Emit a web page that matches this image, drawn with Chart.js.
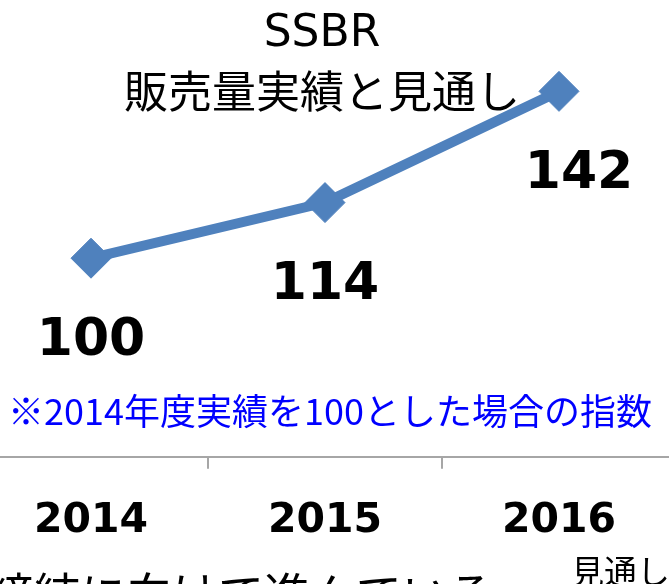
<!DOCTYPE html>
<html>
<head>
<meta charset="utf-8">
<script src="https://cdn.jsdelivr.net/npm/chart.js@4.4.0/dist/chart.umd.min.js"></script>
<style>
    html, body { margin: 0; padding: 0; background: #fff; overflow: hidden; width: 669px; height: 584px; }
    #wrap { position: absolute; left: -26px; top: 0; width: 702px; height: 584px; }
</style>
</head>
<body>
<div id="wrap"><canvas id="chart"></canvas></div>
<script>
const years = ['2014', '2015', '2016'];
const salesIndex = [100, 114, 142];
const titleLines = ['SSBR', '販売量実績と見通し'];
const noteText = '※2014年度実績を100とした場合の指数';
const forecastText = '見通し';
const bottomText = '締結に向けて進んでいる';

// the slide is cropped: the chart starts 26px left of the picture
const SHIFT = 26;
const labelShiftX = [0, 0, 20];

const slideText = {
    id: 'slideText',
    afterDatasetsDraw(chart) {
        const ctx = chart.ctx;
        const meta = chart.getDatasetMeta(0);

        ctx.save();
        ctx.fillStyle = '#000';
        ctx.textAlign = 'center';
        ctx.textBaseline = 'middle';

        // value labels under the markers
        ctx.font = 'bold 52px "DejaVu Sans"';
        meta.data.forEach((pt, i) => {
            ctx.fillText(String(salesIndex[i]), pt.x + labelShiftX[i], pt.y + 83);
        });

        // title
        ctx.font = '44px "DejaVu Sans", "Noto Sans CJK JP"';
        ctx.fillText(titleLines[0], 322 + SHIFT, 35);
        ctx.font = '44px "Noto Sans CJK JP"';
        ctx.fillText(titleLines[1], 322 + SHIFT, 91);

        // note
        ctx.fillStyle = '#0000FF';
        ctx.font = '36px "Noto Sans CJK JP"';
        ctx.fillText(noteText, 330 + SHIFT, 411);

        // slide text cut at the bottom
        ctx.fillStyle = '#000';
        ctx.textAlign = 'left';
        ctx.textBaseline = 'alphabetic';
        ctx.font = '33px "Noto Sans CJK JP"';
        ctx.fillText(forecastText, 571 + SHIFT, 584);
        ctx.font = '46px "Noto Sans CJK JP"';
        ctx.fillText(bottomText, -12 + SHIFT, 611);

        ctx.restore();
    },
};

new Chart(document.getElementById('chart').getContext('2d'), {
    type: 'line',
    data: {
        labels: years,
        datasets: [
            {
                data: salesIndex,
                borderColor: '#4F81BD',
                backgroundColor: '#4F81BD',
                borderWidth: 10,
                pointStyle: 'rectRot',
                pointRadius: 20,
                pointBorderWidth: 1,
                pointBackgroundColor: '#4F81BD',
                pointBorderColor: '#4F81BD',
                tension: 0,
                clip: false,
            },
        ],
    },
    options: {
        animation: false,
        responsive: true,
        maintainAspectRatio: false,
        layout: {
            autoPadding: false,
            padding: { left: 0, right: 0, top: 0, bottom: 10 },
        },
        plugins: {
            legend: { display: false },
            tooltip: { enabled: false },
        },
        scales: {
            y: {
                display: false,
                min: 50,
                max: 165,
            },
            x: {
                offset: true,
                grid: {
                    offset: true,
                    drawOnChartArea: false,
                    drawTicks: true,
                    tickLength: 12,
                    color: '#A6A6A6',
                    lineWidth: 2,
                },
                border: {
                    color: '#A6A6A6',
                    width: 2,
                },
                ticks: {
                    color: '#000',
                    padding: 28,
                    font: { family: '"DejaVu Sans"', size: 41, weight: 'bold' },
                },
            },
        },
    },
    plugins: [slideText],
});
</script>
</body>
</html>
